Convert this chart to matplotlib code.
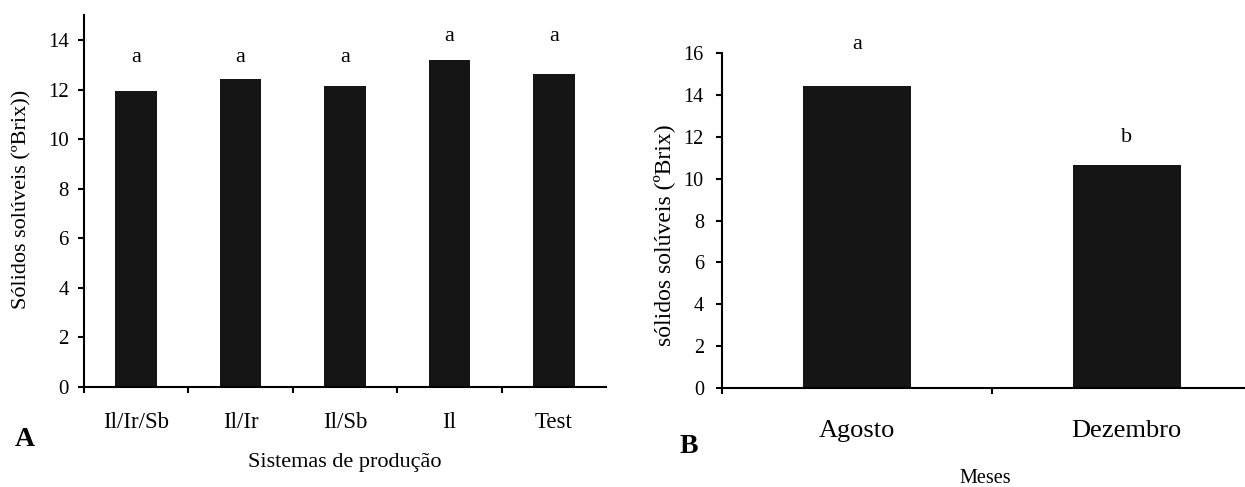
import numpy as np
import matplotlib
matplotlib.use("Agg")
import matplotlib.pyplot as plt

plt.rcParams["font.family"] = ["Liberation Serif", "DejaVu Serif"]

# painel A: sistemas de producao
sistemas = ["Il/Ir/Sb", "Il/Ir", "Il/Sb", "Il", "Test"]
brix_sistemas = [11.95, 12.41, 12.13, 13.18, 12.63]
letras_sistemas = ["a", "a", "a", "a", "a"]
letras_sistemas_y = [13.3, 13.3, 13.3, 14.14, 14.14]

# painel B: meses
meses = ["Agosto", "Dezembro"]
brix_meses = [14.43, 10.66]
letras_meses = ["a", "b"]
letras_meses_y = [16.4, 11.95]

W, H = 1245, 487
fig = plt.figure(figsize=(W / 100, H / 100), dpi=100)

bar_col = "#151515"


def px_axes(x0, x1, y0, y1):
    # caixa em pixels (origem no topo) -> fracao da figura
    return [x0 / W, (H - y1) / H, (x1 - x0) / W, (y1 - y0) / H]


def estilo(ax, ytick_fs, xtick_fs, ypad, xpad):
    for s in ["top", "right"]:
        ax.spines[s].set_visible(False)
    for s in ["left", "bottom"]:
        ax.spines[s].set_linewidth(1.5)
        ax.spines[s].set_color("black")
    ax.tick_params(axis="y", direction="out", length=4.5, width=1.5,
                   labelsize=ytick_fs, pad=ypad)
    ax.tick_params(axis="x", which="major", length=0, labelsize=xtick_fs, pad=xpad)
    ax.tick_params(axis="x", which="minor", direction="out", length=4.5, width=1.5)


# --- A ---
axA = fig.add_axes(px_axes(84, 606, 15.3, 386.7))
xA = np.arange(len(sistemas))
axA.bar(xA, brix_sistemas, width=0.40, color=bar_col)
for x, l, y in zip(xA, letras_sistemas, letras_sistemas_y):
    axA.text(x, y, l, ha="center", va="center", fontsize=16)
axA.set_xlim(-0.5, len(sistemas) - 0.5)
axA.set_ylim(0, 15)
axA.set_yticks(np.arange(0, 15, 2))
axA.set_xticks(xA)
axA.set_xticklabels(sistemas)
axA.set_xticks(np.arange(-0.5, len(sistemas) - 1), minor=True)
estilo(axA, 15, 16.5, 6.5, 18)

fig.text(22 / W, (H - 199) / H, "Sólidos solúveis (ºBrix))", rotation=90,
         ha="center", va="center", fontsize=16)
fig.text(345 / W, (H - 462.5) / H, "Sistemas de produção",
         ha="center", va="center", fontsize=16)
fig.text(24.6 / W, (H - 440) / H, "A", ha="center", va="center",
         fontsize=20, fontweight="bold")

# --- B ---
axB = fig.add_axes(px_axes(721.7, 1261.7, 53.3, 387.7))
xB = np.arange(len(meses))
axB.bar(xB, brix_meses, width=0.40, color=bar_col)
for x, l, y in zip(xB, letras_meses, letras_meses_y):
    axB.text(x, y, l, ha="center", va="center", fontsize=16, clip_on=False)
axB.set_xlim(-0.5, len(meses) - 0.5)
axB.set_ylim(0, 16)
axB.set_yticks(np.arange(0, 17, 2))
axB.set_xticks(xB)
axB.set_xticklabels(meses)
axB.set_xticks(np.arange(-0.5, len(meses) - 1), minor=True)
estilo(axB, 14.5, 19, 8.4, 23)

fig.text(664 / W, (H - 235) / H, "sólidos solúveis (ºBrix)", rotation=90,
         ha="center", va="center", fontsize=17)
fig.text(985 / W, (H - 478.3) / H, "Meses", ha="center", va="center", fontsize=14.5)
fig.text(689 / W, (H - 446.7) / H, "B", ha="center", va="center",
         fontsize=20, fontweight="bold")

fig.savefig("out.png", dpi=100)
